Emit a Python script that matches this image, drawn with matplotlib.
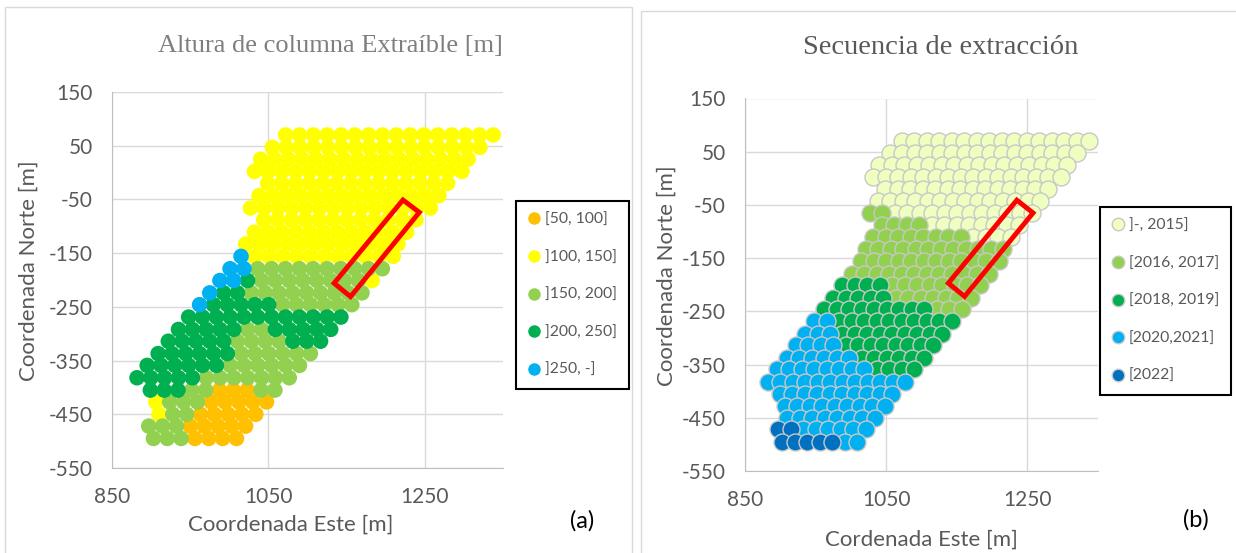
import matplotlib
matplotlib.use("Agg")
import matplotlib.pyplot as plt
from matplotlib.lines import Line2D
from matplotlib.patches import Polygon, Rectangle

plt.rcParams['font.family'] = ['Lato', 'DejaVu Sans']
plt.rcParams['axes.unicode_minus'] = False

# block rows (same block positions in both panels)
row_y = [70, 47, 25, 2, -20, -43, -66, -88, -111, -133, -156, -179, -201,
         -224, -246, -269, -292, -314, -337, -359, -382, -405, -427, -450, -472, -495]
row_x0 = [1072, 1055, 1040, 1032, 1049, 1038, 1027, 1044, 1032, 1021, 1015, 1001, 988,
          975, 962, 948, 935, 922, 909, 895, 882, 899, 906, 910, 897, 903]
col_step = 17.7

# panel (a): runs of (class, count) along each row, left to right
alt_labels = ['[50, 100]', ']100, 150]', ']150, 200]', ']200, 250]', ']250, -]']
alt_colors = ['#FFC000', '#FFFF00', '#92D050', '#00B050', '#00B0F0']
alt_runs = [
    [(1, 16)], [(1, 16)], [(1, 16)], [(1, 16)],
    [(1, 14)], [(1, 14)], [(1, 14)],
    [(1, 12)], [(1, 12)], [(1, 12)],
    [(4, 1), (1, 11)],
    [(4, 2), (2, 10)],
    [(4, 2), (3, 1), (2, 8), (1, 1)],
    [(4, 1), (3, 2), (2, 9)],
    [(4, 1), (3, 5), (2, 6)],
    [(3, 12)],
    [(3, 5), (2, 2), (3, 5)],
    [(3, 5), (2, 4), (3, 3)],
    [(3, 6), (2, 6)],
    [(3, 6), (2, 6)],
    [(3, 5), (2, 7)],
    [(3, 3), (2, 2), (0, 3), (2, 2)],
    [(1, 1), (2, 3), (0, 5)],
    [(1, 1), (2, 2), (0, 5)],
    [(2, 3), (0, 5)],
    [(2, 3), (0, 4)],
]

# panel (b): extraction sequence
seq_labels = [']-, 2015]', '[2016, 2017]', '[2018, 2019]', '[2020,2021]', '[2022]']
seq_colors = ['#EEFFC0', '#92D050', '#00B050', '#00B0F0', '#0070C0']
seq_runs = [
    [(0, 16)], [(0, 16)], [(0, 16)], [(0, 16)],
    [(0, 14)], [(0, 14)],
    [(1, 2), (0, 12)],
    [(1, 4), (0, 8)],
    [(1, 8), (0, 4)],
    [(1, 12)],
    [(1, 12)],
    [(1, 12)],
    [(2, 4), (1, 8)],
    [(2, 5), (1, 7)],
    [(2, 9), (1, 3)],
    [(3, 2), (2, 10)],
    [(3, 3), (2, 9)],
    [(3, 4), (2, 8)],
    [(3, 6), (2, 6)],
    [(3, 8), (2, 4)],
    [(3, 12)],
    [(3, 10)],
    [(3, 9)],
    [(3, 8)],
    [(4, 2), (3, 6)],
    [(4, 5), (3, 2)],
]

# red rectangles (corners, data coords)
rect_a = [(1222, -51), (1243, -74), (1155, -231), (1134, -206)]
rect_b = [(1235, -41), (1258, -65), (1161, -222), (1138, -197)]


def points(runs, ncls):
    xs = [[] for _ in range(ncls)]
    ys = [[] for _ in range(ncls)]
    for k, row in enumerate(runs):
        j = 0
        for c, n in row:
            for i in range(n):
                xs[c].append(row_x0[k] + j * col_step)
                ys[c].append(row_y[k])
                j += 1
    return xs, ys


W, H = 1236, 553
fig = plt.figure(figsize=(W / 100, H / 100), dpi=100)


def fx(px):
    return px / W


def fy(py):
    return 1 - py / H


# chart borders
fig.add_artist(Rectangle((fx(5), fy(560)), fx(627), fy(7) - fy(560), transform=fig.transFigure,
                         fill=False, edgecolor='#D9D9D9', lw=1))
fig.add_artist(Rectangle((fx(641), fy(560)), fx(600), fy(11) - fy(560), transform=fig.transFigure,
                         fill=False, edgecolor='#D9D9D9', lw=1))

tick_col = '#595959'


def style(ax):
    ax.set_xlim(850, 1350)
    ax.set_ylim(-550, 150)
    ax.set_xticks([850, 1050, 1250])
    ax.set_yticks(range(-550, 151, 100))
    ax.grid(True, color='#D9D9D9', lw=1)
    ax.set_axisbelow(True)
    for s in ['top', 'right']:
        ax.spines[s].set_visible(False)
    for s in ['left', 'bottom']:
        ax.spines[s].set_color('#BFBFBF')
    ax.tick_params(length=0, labelsize=15, colors=tick_col, pad=14)


ax1 = fig.add_axes([fx(112), fy(468), fx(503 - 112), fy(92) - fy(468)])
style(ax1)
xs, ys = points(alt_runs, 5)
for c in range(5):
    ax1.scatter(xs[c], ys[c], s=125, color=alt_colors[c], edgecolors='none', zorder=3)
ax1.add_patch(Polygon(rect_a, closed=True, fill=False, edgecolor='#FF0000', lw=3.5, zorder=5))

ax2 = fig.add_axes([fx(745), fy(471), fx(1098 - 745), fy(98.5) - fy(471)])
style(ax2)
xs, ys = points(seq_runs, 5)
for c in range(5):
    ax2.scatter(xs[c], ys[c], s=150, color=seq_colors[c], edgecolors='#C8C8C8', linewidths=1.0, zorder=3)
ax2.add_patch(Polygon(rect_b, closed=True, fill=False, edgecolor='#FF0000', lw=3.5, zorder=5))

# titles and labels
fig.text(fx(330), fy(46), 'Altura de columna Extraíble [m]', family='Liberation Serif',
         fontsize=19, color='#7F7F7F', ha='center', va='center')
fig.text(fx(941), fy(48), 'Secuencia de extracción', family='Liberation Serif',
         fontsize=20.5, color='#595959', ha='center', va='center')
fig.text(fx(291), fy(525), 'Coordenada Este [m]', fontsize=16, color=tick_col, ha='center', va='center')
fig.text(fx(921), fy(540), 'Cordenada Este [m]', fontsize=16, color=tick_col, ha='center', va='center')
fig.text(fx(29), fy(271), 'Coordenada Norte [m]', fontsize=16, color=tick_col, ha='center',
         va='center', rotation=90)
fig.text(fx(667), fy(276), 'Coordenada Norte [m]', fontsize=16, color=tick_col, ha='center',
         va='center', rotation=90)
fig.text(fx(582), fy(521), '(a)', fontsize=17, color='black', ha='center', va='center')
fig.text(fx(1196), fy(520), '(b)', fontsize=17, color='black', ha='center', va='center')


def legend(ax, labels, colors, edge, x, y):
    h = [Line2D([], [], ls='none', marker='o', ms=9, markerfacecolor=col,
                markeredgecolor=edge, markeredgewidth=1 if edge != 'none' else 0)
         for col in colors]
    leg = ax.legend(h, labels, loc='upper left', bbox_to_anchor=(fx(x), fy(y)),
                    bbox_transform=fig.transFigure, fontsize=11.3, labelspacing=1.5,
                    borderpad=0.75, handlelength=0.8, handletextpad=0.3,
                    borderaxespad=0, fancybox=False, framealpha=1)
    leg.get_frame().set_edgecolor('black')
    leg.get_frame().set_linewidth(1.5)
    for t in leg.get_texts():
        t.set_color(tick_col)


legend(ax1, alt_labels, alt_colors, 'none', 516, 201)
legend(ax2, seq_labels, seq_colors, '#C8C8C8', 1100, 207)

fig.savefig('out.png', dpi=100)
